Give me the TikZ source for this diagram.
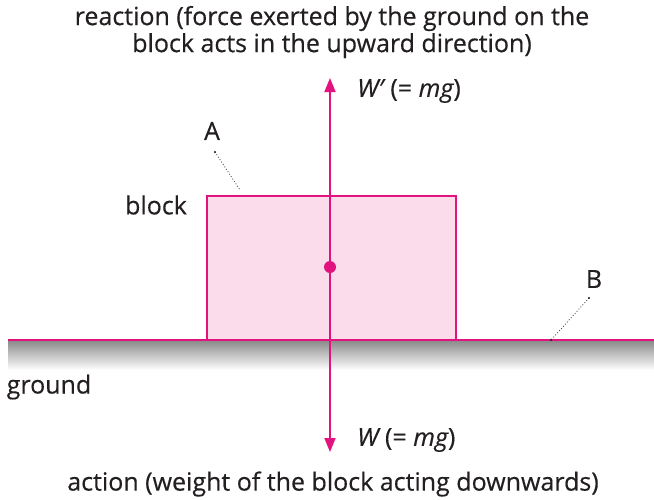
\documentclass[tikz,border=0pt]{standalone}
\usepackage{fontspec}
\setmainfont{Open Sans}[FakeBold=0.4]
\usetikzlibrary{arrows.meta}
\definecolor{mag}{HTML}{E2137F}
\definecolor{pinkfill}{HTML}{FADCEB}
\definecolor{txt}{HTML}{231F20}
\begin{document}
\begin{tikzpicture}[x=1pt,y=-1pt,
  lbl/.style={text=txt,font=\fontsize{25}{27}\selectfont,inner sep=0pt},
  leader/.style={draw=txt!80,dotted,line width=0.9pt},
  force/.style={draw=mag,line width=1.8pt,-{Triangle[width=11pt,length=14pt]}}]
\useasboundingbox (0,0) rectangle (654,499);
% ground
\shade[top color=black!45,bottom color=white] (8,341) rectangle (654,370);
\draw[mag,line width=2pt] (8,340) -- (654,340);
% block
\node[draw=mag,fill=pinkfill,line width=1.5pt,minimum width=249pt,minimum height=144pt,inner sep=0pt,anchor=north west] (blk) at (206,195) {};
% centre
\coordinate (c) at (330,267);
\coordinate (up) at (330,78);
\coordinate (dn) at (330,452);
\draw[force] (c) -- (up);
\draw[force] (c) -- (dn);
\fill[mag] (c) circle (6pt);
% labels
\node[lbl,align=center] (top) at (332,32) {reaction (force exerted by the ground on the\\block acts in the upward direction)};
\node[lbl,anchor=west] (wup) at (357,91) {\itshape W′ \upshape(= \itshape mg\upshape)};
\node[lbl,anchor=west] (wdn) at (357,440) {\itshape W \upshape(= \itshape mg\upshape)};
\node[lbl] (bot) at (333,484) {action (weight of the block acting downwards)};
\node[lbl] (blab) at (156,205) {block};
\node[lbl] (glab) at (49,387) {ground};
\node[lbl] (A) at (212,131) {A};
\node[lbl] (B) at (594,279) {B};
\coordinate (a1) at (215,152);
\coordinate (a2) at (240,190);
\coordinate (b1) at (589,298);
\coordinate (b2) at (551,340);
\draw[leader] (a1) -- (a2);
\draw[leader] (b1) -- (b2);
\fill[txt] (a1) circle (1.2pt) (b1) circle (1.2pt) (b2) circle (1.2pt);
\end{tikzpicture}
\end{document}
